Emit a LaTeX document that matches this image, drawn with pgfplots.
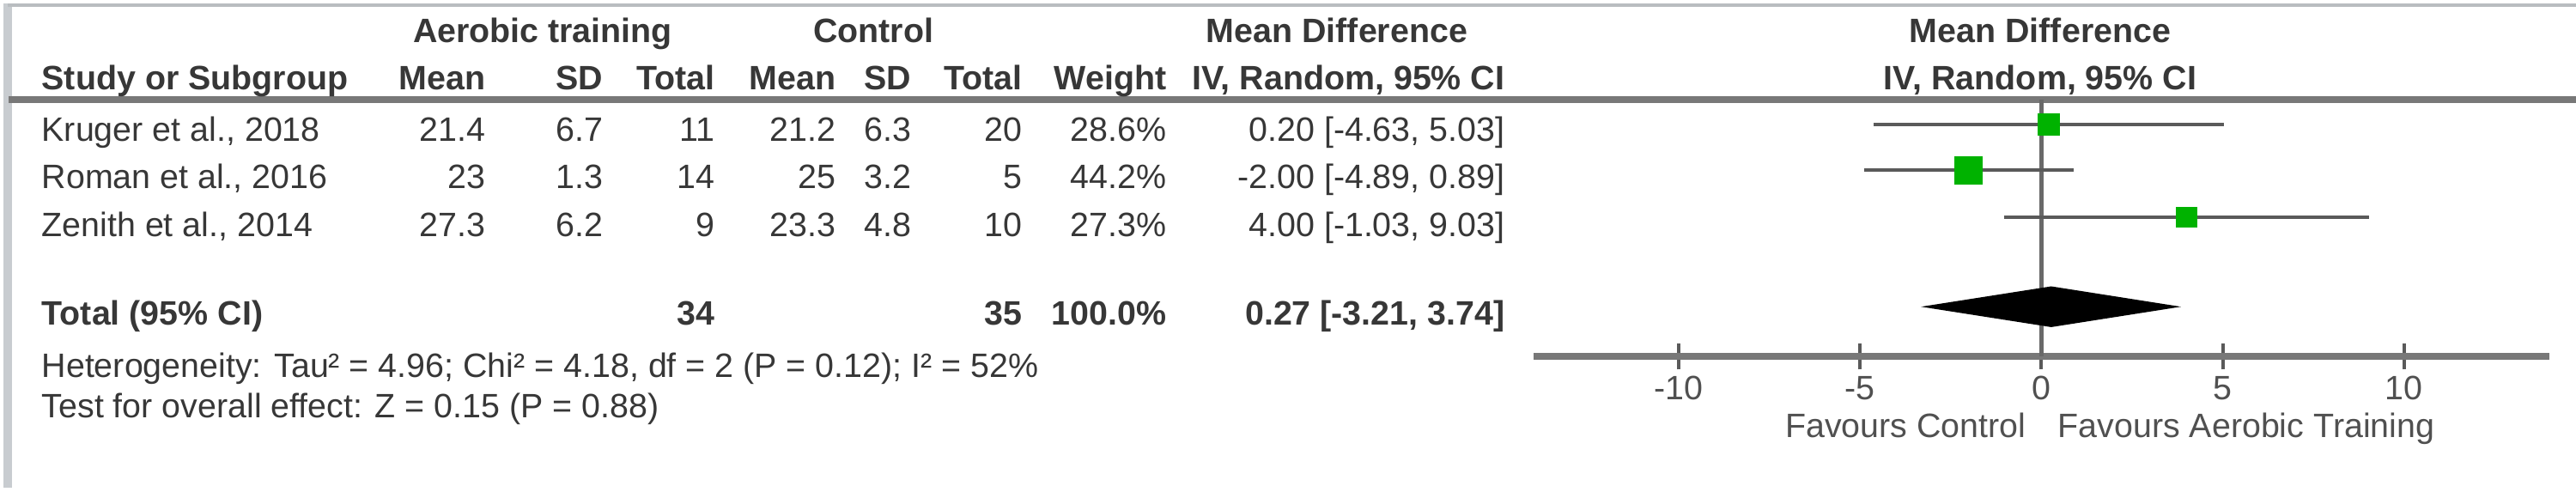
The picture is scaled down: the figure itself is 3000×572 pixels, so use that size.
\documentclass[border=0pt]{standalone}
\usepackage{fontspec}
\setmainfont{Liberation Sans}
\usepackage{pgfplots}
\pgfplotsset{compat=1.18}

\definecolor{txt}{RGB}{55,55,55}
\definecolor{lbl}{RGB}{80,80,80}
\definecolor{ciline}{RGB}{90,90,90}
\definecolor{zeroline}{RGB}{105,105,105}
\definecolor{rule}{RGB}{120,120,120}
\definecolor{frame}{RGB}{200,204,208}
\definecolor{rmgreen}{RGB}{0,178,0}

\begin{document}
\begin{tikzpicture}[
  f/.style={font=\fontsize{11.2}{13}\selectfont, text=txt, inner sep=0pt},
  b/.style={font=\fontsize{11.2}{13}\selectfont\bfseries, text=txt, inner sep=0pt},
]
% table part, in pixel units of the 3000x572 reference (y downwards)
\begin{scope}[x=0.01cm, y=-0.01cm]
\useasboundingbox (0,0) rectangle (3000,572);
\draw[frame, line width=0.1cm] (9,4) -- (9,568);
\draw[frame!80!gray, line width=0.035cm] (9,6) -- (3000,6);
\draw[rule, line width=0.075cm] (10,116) -- (3000,116);

% headers
\node[b, anchor=base] at (632,49) {Aerobic training};
\node[b, anchor=base] at (1017,49) {Control};
\node[b, anchor=base] at (1557,49) {Mean Difference};
\node[b, anchor=base] at (2376,49) {Mean Difference};
\node[b, anchor=base west] at (48,104) {Study or Subgroup};
\node[b, anchor=base east] at (566,104) {Mean};
\node[b, anchor=base east] at (703,104) {SD};
\node[b, anchor=base east] at (833,104) {Total};
\node[b, anchor=base east] at (974,104) {Mean};
\node[b, anchor=base east] at (1062,104) {SD};
\node[b, anchor=base east] at (1191,104) {Total};
\node[b, anchor=base east] at (1359,104) {Weight};
\node[b, anchor=base east] at (1753,104) {IV, Random, 95\% CI};
\node[b, anchor=base] at (2376,104) {IV, Random, 95\% CI};

% study rows
\foreach \nm/\ma/\sa/\na/\mc/\sc/\nc/\w/\ci/\y in {
  {Kruger et al., 2018}/21.4/6.7/11/21.2/6.3/20/28.6/{0.20 [-4.63, 5.03]}/164,
  {Roman et al., 2016}/23/1.3/14/25/3.2/5/44.2/{-2.00 [-4.89, 0.89]}/219,
  {Zenith et al., 2014}/27.3/6.2/9/23.3/4.8/10/27.3/{4.00 [-1.03, 9.03]}/275}{
  \node[f, anchor=base west] at (48,\y) {\nm};
  \node[f, anchor=base east] at (566,\y) {\ma};
  \node[f, anchor=base east] at (703,\y) {\sa};
  \node[f, anchor=base east] at (833,\y) {\na};
  \node[f, anchor=base east] at (974,\y) {\mc};
  \node[f, anchor=base east] at (1062,\y) {\sc};
  \node[f, anchor=base east] at (1191,\y) {\nc};
  \node[f, anchor=base east] at (1359,\y) {\w\%};
  \node[f, anchor=base east] at (1753,\y) {\ci};
}

% total row
\node[b, anchor=base west] at (48,378) {Total (95\% CI)};
\node[b, anchor=base east] at (833,378) {34};
\node[b, anchor=base east] at (1191,378) {35};
\node[b, anchor=base east] at (1359,378) {100.0\%};
\node[b, anchor=base east] at (1753,378) {0.27 [-3.21, 3.74]};
\node[f, anchor=base west] at (48,439) {Heterogeneity: Tau² = 4.96; Chi² = 4.18, df = 2 (P = 0.12); I² = 52\%};
\node[f, anchor=base west] at (48,486) {Test for overall effect: Z = 0.15 (P = 0.88)};

\node[f, text=lbl, anchor=base east] at (2360,509) {Favours Control};
\node[f, text=lbl, anchor=base west] at (2396,509) {Favours Aerobic Training};
\end{scope}

% forest plot
\begin{axis}[
  at={(17.85cm,-4.15cm)}, anchor=south west,
  scale only axis, width=11.82cm, height=2.99cm,
  xmin=-14, xmax=14, ymin=116, ymax=415, y dir=reverse,
  clip=false,
  axis x line*=bottom, axis y line=none,
  axis line style={rule, line width=0.08cm},
  xtick={-10,-5,0,5,10},
  xticklabels={-10,-5,0,5,10},
  major tick length=0.3cm, tick align=center,
  xtick style={ciline, line width=0.04cm},
  xticklabel style={font=\fontsize{11.2}{13}\selectfont, text=lbl, anchor=base, inner sep=0pt, yshift=-0.35cm},
]
\addplot[zeroline, line width=0.045cm] coordinates {(0,116) (0,415)};
% 95% CI of each study
\addplot[ciline, line width=0.045cm] coordinates {(-4.63,145) (5.03,145)};
\addplot[ciline, line width=0.045cm] coordinates {(-4.89,198) (0.89,198)};
\addplot[ciline, line width=0.045cm] coordinates {(-1.03,253) (9.03,253)};
% point estimates, box size by weight
\addplot[only marks, mark=square*, mark size=3.4pt, rmgreen] coordinates {(0.20,145)};
\addplot[only marks, mark=square*, mark size=4.5pt, rmgreen] coordinates {(-2.00,198)};
\addplot[only marks, mark=square*, mark size=3.3pt, rmgreen] coordinates {(4.00,253)};
% pooled estimate
\addplot[fill=black, draw=black] coordinates {(-3.21,357) (0.27,334) (3.74,357) (0.27,380)} -- cycle;
\end{axis}
\end{tikzpicture}
\end{document}
